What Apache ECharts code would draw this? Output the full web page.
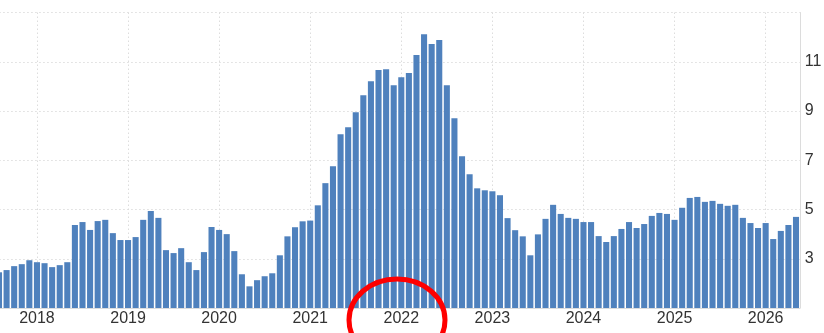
<!DOCTYPE html>
<html>
<head>
<meta charset="utf-8">
<script src="https://cdn.jsdelivr.net/npm/echarts@6/dist/echarts.min.js"></script>
<style>
html,body{margin:0;padding:0;background:#fff;}
#chart{width:824px;height:333px;}
</style>
</head>
<body>
<div id="chart"></div>
<script>
// Monthly values (2017 starts in August, 2026 ends in May)
const values2017 = [2.45, 2.54, 2.70, 2.78, 2.94];
const values2018 = [2.86, 2.82, 2.66, 2.74, 2.86, 4.37, 4.49, 4.17, 4.53, 4.58, 4.04, 3.76];
const values2019 = [3.76, 3.88, 4.58, 4.94, 4.66, 3.35, 3.23, 3.43, 2.86, 2.54, 3.27, 4.29];
const values2020 = [4.17, 4.00, 3.31, 2.37, 1.88, 2.13, 2.29, 2.41, 3.14, 3.91, 4.28, 4.52];
const values2021 = [4.55, 5.17, 6.07, 6.76, 8.06, 8.34, 8.95, 9.64, 10.21, 10.66, 10.70, 10.05];
const values2022 = [10.37, 10.54, 11.27, 12.12, 11.72, 11.88, 10.05, 8.71, 7.16, 6.43, 5.86, 5.78];
const values2023 = [5.74, 5.58, 4.65, 4.16, 3.91, 3.14, 3.99, 4.62, 5.19, 4.82, 4.66, 4.62];
const values2024 = [4.49, 4.49, 3.92, 3.68, 3.92, 4.21, 4.49, 4.25, 4.41, 4.74, 4.86, 4.82];
const values2025 = [4.58, 5.07, 5.47, 5.51, 5.31, 5.35, 5.23, 5.15, 5.19, 4.66, 4.45, 4.25];
const values2026 = [4.45, 3.80, 4.13, 4.37, 4.70];

const years = ['2017','2018','2019','2020','2021','2022','2023','2024','2025','2026'];
const yearValues = [values2017, values2018, values2019, values2020, values2021,
                    values2022, values2023, values2024, values2025, values2026];
const firstMonth2017 = 8;
const yTicks = [3, 5, 7, 9, 11];

const categories = [];
const values = [];
years.forEach((y, yi) => {
  const arr = yearValues[yi];
  const start = yi === 0 ? firstMonth2017 : 1;
  arr.forEach((v, i) => {
    const m = start + i;
    categories.push(y + '-' + (m < 10 ? '0' + m : '' + m));
    values.push(v);
  });
});

const isJan = (idx, val) => String(val).slice(5) === '01';
const FONT = '"Liberation Sans", Arial, sans-serif';

const chart = echarts.init(document.getElementById('chart'), null, {renderer: 'canvas'});
chart.setOption({
  animation: false,
  backgroundColor: '#ffffff',
  grid: {left: -4.8, right: 24.2, top: 12.5, bottom: 25, containLabel: false, outerBoundsMode: 'none'},
  xAxis: {
    type: 'category',
    data: categories,
    boundaryGap: true,
    axisLine: {show: true, lineStyle: {color: '#dcdcdc', width: 1}},
    axisTick: {show: false},
    axisLabel: {
      interval: isJan,
      formatter: v => v.slice(0, 4),
      color: '#333333',
      fontFamily: FONT,
      fontSize: 16,
      margin: 3
    },
    splitLine: {
      show: true,
      interval: isJan,
      alignWithLabel: true,
      lineStyle: {color: '#dddddd', type: [1.5, 2.5], width: 1}
    }
  },
  yAxis: {
    type: 'value',
    position: 'right',
    min: 1,
    max: 13,
    interval: 2,
    axisLine: {show: true, lineStyle: {color: '#dcdcdc', width: 1}},
    axisTick: {show: false},
    axisLabel: {
      color: '#333333',
      fontFamily: FONT,
      fontSize: 16,
      margin: 5,
      formatter: v => (yTicks.indexOf(v) >= 0 ? String(v) : '')
    },
    splitLine: {show: true, lineStyle: {color: '#dddddd', type: [1.5, 2.5], width: 1}}
  },
  series: [{
    type: 'bar',
    data: values,
    barCategoryGap: '20%',
    itemStyle: {color: '#4f81bd'}
  }],
  graphic: [{
    type: 'ellipse',
    z: 100,
    shape: {cx: 397, cy: 320, rx: 48, ry: 41},
    style: {fill: 'none', stroke: '#ff0000', lineWidth: 5}
  }]
});
</script>
</body>
</html>
